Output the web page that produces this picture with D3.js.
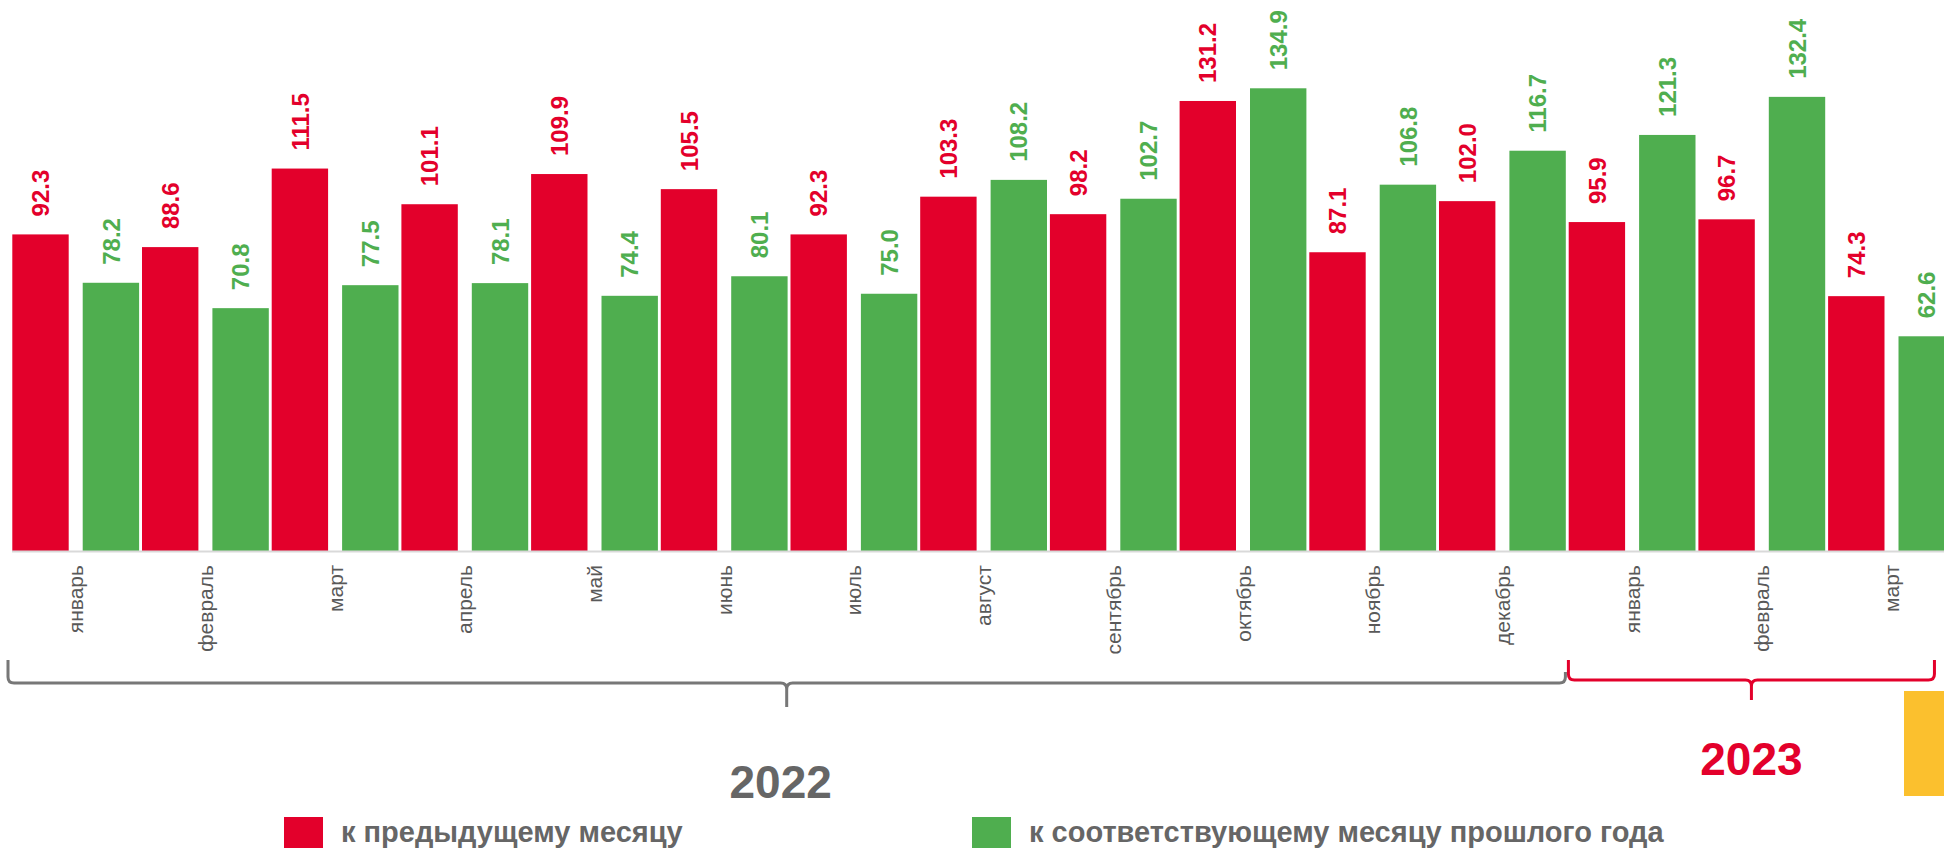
<!DOCTYPE html>
<html>
<head>
<meta charset="utf-8">
<script src="https://cdn.jsdelivr.net/npm/d3@7"></script>
<style>
  body { margin: 0; background: #fff; }
  svg { display: block; font-family: 'Liberation Sans', Arial, sans-serif; }
</style>
</head>
<body>
<svg id="chart" width="1944" height="848"></svg>
<script>
const months = ['январь','февраль','март','апрель','май','июнь','июль','август',
                'сентябрь','октябрь','ноябрь','декабрь','январь','февраль','март'];
const prevMonth = [92.3, 88.6, 111.5, 101.1, 109.9, 105.5, 92.3, 103.3, 98.2, 131.2, 87.1, 102.0, 95.9, 96.7, 74.3];
const lastYear  = [78.2, 70.8, 77.5, 78.1, 74.4, 80.1, 75.0, 108.2, 102.7, 134.9, 106.8, 116.7, 121.3, 132.4, 62.6];
const years = ['2022', '2023'];
const yearFirst = [0, 12];
const yearLast = [11, 14];
const legendLabels = ['к предыдущему месяцу', 'к соответствующему месяцу прошлого года'];

const RED = '#E3002B', GREEN = '#4FAE4F', GRAY = '#595959';

const svg = d3.select('#chart');
const baseY = 551;
const step = 129.7;

const x = d3.scaleBand()
    .domain(d3.range(months.length))
    .range([11, 11 + step * months.length])
    .padding(0);
const xSub = d3.scaleBand()
    .domain(['prev','yoy'])
    .range([1.3, 128.1])
    .paddingInner(0.199);
const y = d3.scaleLinear()
    .domain([0, baseY / 3.43])
    .range([baseY, 0]);

const data = months.map((m, i) => ({i: i, month: m, prev: prevMonth[i], yoy: lastYear[i]}));
const series = [{key: 'prev', color: RED}, {key: 'yoy', color: GREEN}];

const g = svg.append('g');

series.forEach(s => {
    g.selectAll('rect.' + s.key)
        .data(data)
        .enter()
        .append('rect')
        .attr('class', s.key)
        .attr('x', d => x(d.i) + xSub(s.key))
        .attr('y', d => y(d[s.key]))
        .attr('width', xSub.bandwidth())
        .attr('height', d => baseY - y(d[s.key]))
        .attr('fill', s.color);

    g.selectAll('text.' + s.key)
        .data(data)
        .enter()
        .append('text')
        .attr('class', s.key)
        .attr('transform', d => 'translate(' + (x(d.i) + xSub(s.key) + xSub.bandwidth() / 2) + ',' + (y(d[s.key]) - 18) + ') rotate(-90)')
        .attr('dy', '0.36em')
        .attr('fill', s.color)
        .style('font-size', '24px')
        .style('font-weight', 'bold')
        .text(d => d[s.key].toFixed(1));
});

// baseline
g.append('line')
    .attr('x1', x.range()[0] + 1)
    .attr('x2', 1944)
    .attr('y1', baseY + 0.5)
    .attr('y2', baseY + 0.5)
    .attr('stroke', '#d9d9d9')
    .attr('stroke-width', 2);

// month labels
g.selectAll('text.month')
    .data(data)
    .enter()
    .append('text')
    .attr('class', 'month')
    .attr('transform', d => 'translate(' + (x(d.i) + x.bandwidth() / 2) + ',' + 565 + ') rotate(-90)')
    .attr('text-anchor', 'end')
    .attr('dy', '0.35em')
    .attr('fill', GRAY)
    .style('font-size', '21px')
    .text(d => d.month);

// year braces
function brace(x1, x2, yTop1, yTop2, yLine, yTip, r) {
    const xm = (x1 + x2) / 2;
    return 'M' + x1 + ',' + yTop1 + ' L' + x1 + ',' + (yLine - r) +
        ' Q' + x1 + ',' + yLine + ' ' + (x1 + r) + ',' + yLine +
        ' L' + (xm - r) + ',' + yLine +
        ' Q' + xm + ',' + yLine + ' ' + xm + ',' + (yLine + r) +
        ' L' + xm + ',' + yTip +
        ' M' + xm + ',' + (yLine + r) +
        ' Q' + xm + ',' + yLine + ' ' + (xm + r) + ',' + yLine +
        ' L' + (x2 - r) + ',' + yLine +
        ' Q' + x2 + ',' + yLine + ' ' + x2 + ',' + (yLine - r) +
        ' L' + x2 + ',' + yTop2;
}

const braceCfg = [
    {x1: x(yearFirst[0]) - 3, x2: x(yearLast[0] + 1) - 2, top2: 672, line: 683, tip: 707, color: '#777777', textY: 798},
    {x1: x(yearFirst[1]) + 1, x2: x(yearLast[1]) + step * 0.83, top2: 660, line: 680, tip: 700, color: RED, textY: 775}
];

braceCfg.forEach((b, k) => {
    svg.append('path')
        .attr('d', brace(b.x1, b.x2, 660, b.top2, b.line, b.tip, 6))
        .attr('fill', 'none')
        .attr('stroke', b.color)
        .attr('stroke-width', 3);
    svg.append('text')
        .attr('x', (b.x1 + b.x2) / 2 - (k === 0 ? 6 : 0))
        .attr('y', b.textY)
        .attr('text-anchor', 'middle')
        .attr('fill', k === 0 ? '#666666' : RED)
        .style('font-size', '46px')
        .style('font-weight', 'bold')
        .text(years[k]);
});

// yellow box partly outside the frame
svg.append('rect')
    .attr('x', 1904)
    .attr('y', 691)
    .attr('width', 60)
    .attr('height', 105)
    .attr('fill', '#FBC02E');

// legend
const legendX = [284, 972];
series.forEach((s, k) => {
    svg.append('rect')
        .attr('x', legendX[k])
        .attr('y', 817)
        .attr('width', 39)
        .attr('height', 38)
        .attr('fill', s.color);
    svg.append('text')
        .attr('x', legendX[k] + 57)
        .attr('y', 842)
        .attr('fill', '#666666')
        .style('font-size', '29px')
        .style('font-weight', 'bold')
        .text(legendLabels[k]);
});
</script>
</body>
</html>
